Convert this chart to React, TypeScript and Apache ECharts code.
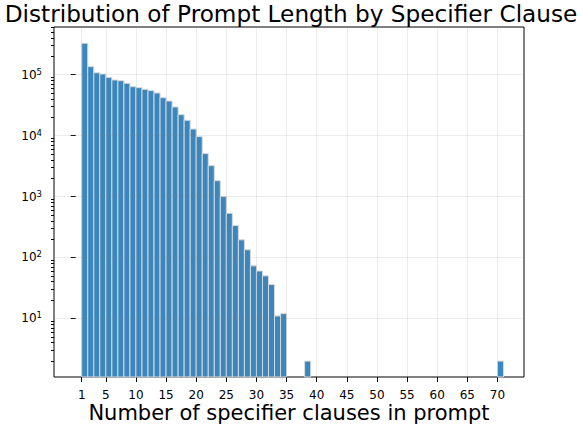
import React, { useEffect, useRef } from 'react';
import * as echarts from 'echarts';

// Histogram bins: left edge (number of specifier clauses) and count of prompts
const binLeft = [
  1, 2, 3, 4, 5, 6, 7, 8, 9, 10, 11, 12, 13, 14, 15, 16, 17,
  18, 19, 20, 21, 22, 23, 24, 25, 26, 27, 28, 29, 30, 31, 32, 33, 34,
  38, 70,
];
const counts = [
  326000, 135000, 107000, 102000, 90000, 81500, 79400, 72000, 63300, 61000,
  57400, 54500, 49900, 41800, 36900, 29400, 22000, 17800, 12800, 9600,
  5060, 3210, 1820, 998, 533, 334, 195, 134, 73, 60, 50, 36, 11, 12,
  2, 2,
];
const binWidth = 1;

const xTickValues = [1, 5, 10, 15, 20, 25, 30, 35, 40, 45, 50, 55, 60, 65, 70];
const yMajorTicks = [10, 100, 1000, 10000, 100000];
const yMinorMantissas = [2, 3, 4, 5, 6, 7, 8, 9];
const yMinorDecades = [1, 10, 100, 1000, 10000, 100000];

const xMin = -3.6;
const xMax = 74.4;
const yMin = 1.096;
const yMax = 603000;

const titleText = 'Distribution of Prompt Length by Specifier Clause';
const xAxisTitle = 'Number of specifier clauses in prompt';

const FONT = 'DejaVu Sans';

export default function App() {
  const ref = useRef<HTMLDivElement>(null);

  useEffect(() => {
    if (!ref.current) return;
    const chart = echarts.init(ref.current, undefined, { renderer: 'svg' });

    const yMinorTicks: number[] = [];
    yMinorDecades.forEach((d) =>
      yMinorMantissas.forEach((m) => yMinorTicks.push(m * d))
    );

    const barData = binLeft.map((x, i) => [x, x + binWidth, counts[i]]);

    const gridColor = 'rgba(128,128,128,0.15)';

    const option: any = {
      animation: false,
      grid: {
        left: 54,
        right: 58,
        top: 27,
        bottom: 49,
        show: true,
        borderColor: '#000',
        borderWidth: 1,
        backgroundColor: 'transparent',
      },
      xAxis: {
        type: 'value',
        min: xMin,
        max: xMax,
        axisLine: { show: false },
        splitLine: { show: false },
        axisTick: {
          show: true,
          customValues: xTickValues,
          length: 5,
          lineStyle: { color: '#000', width: 1 },
        },
        axisLabel: {
          customValues: xTickValues,
          fontSize: 12,
          fontFamily: FONT,
          color: '#000',
          margin: 12,
        },
      },
      yAxis: [
        {
          type: 'log',
          logBase: 10,
          min: yMin,
          max: yMax,
          axisLine: { show: false },
          splitLine: { show: false },
          axisTick: {
            show: true,
            customValues: yMajorTicks,
            length: 5,
            lineStyle: { color: '#000', width: 1 },
          },
          axisLabel: {
            customValues: yMajorTicks,
            margin: 12,
            formatter: (v: number) =>
              '{b|10}{s|' + Math.round(Math.log10(v)) + '}',
            rich: {
              b: { fontSize: 12, fontFamily: FONT, color: '#000', lineHeight: 15 },
              s: {
                fontSize: 8.5,
                fontFamily: FONT,
                color: '#000',
                lineHeight: 8,
                verticalAlign: 'top',
              },
            },
          },
        },
        {
          type: 'log',
          logBase: 10,
          min: yMin,
          max: yMax,
          position: 'left',
          axisLine: { show: false },
          splitLine: { show: false },
          axisLabel: { show: false },
          axisTick: {
            show: true,
            customValues: yMinorTicks,
            length: 3,
            lineStyle: { color: '#000', width: 1 },
          },
        },
      ],
      series: [
        {
          type: 'custom',
          xAxisIndex: 0,
          yAxisIndex: 0,
          encode: { x: [0, 1], y: 2 },
          data: barData,
          z: 2,
          renderItem: (params: any, api: any) => {
            const x0 = api.value(0);
            const x1 = api.value(1);
            const v = api.value(2);
            const pTop = api.coord([x0, v]);
            const pBot = api.coord([x1, yMin]);
            return {
              type: 'rect',
              shape: {
                x: pTop[0],
                y: pTop[1],
                width: pBot[0] - pTop[0],
                height: pBot[1] - pTop[1],
              },
              style: {
                fill: '#3a86bf',
                stroke: '#d9d9d9',
                lineWidth: 1,
              },
            };
          },
        },
        {
          type: 'line',
          xAxisIndex: 0,
          yAxisIndex: 0,
          data: [],
          z: 10,
          silent: true,
          markLine: {
            silent: true,
            symbol: 'none',
            animation: false,
            label: { show: false },
            lineStyle: { color: gridColor, width: 1, type: 'solid' },
            emphasis: { disabled: true },
            data: [
              ...xTickValues.map((v) => ({ xAxis: v })),
              ...yMajorTicks.map((v) => ({ yAxis: v })),
            ],
          },
        },
      ],
      graphic: [
        {
          type: 'text',
          x: 291,
          y: 13.7,
          style: {
            text: titleText,
            fontSize: 23.2,
            fontFamily: FONT,
            fill: '#000',
            align: 'center',
            verticalAlign: 'middle',
          },
        },
        {
          type: 'text',
          x: 289,
          y: 413,
          style: {
            text: xAxisTitle,
            fontSize: 21,
            fontFamily: FONT,
            fill: '#000',
            align: 'center',
            verticalAlign: 'middle',
          },
        },
      ],
    };

    chart.setOption(option);
    return () => chart.dispose();
  }, []);

  return (
    <div
      ref={ref}
      style={{ position: 'fixed', left: 0, top: 0, width: 582, height: 426, background: '#fff' }}
    />
  );
}
